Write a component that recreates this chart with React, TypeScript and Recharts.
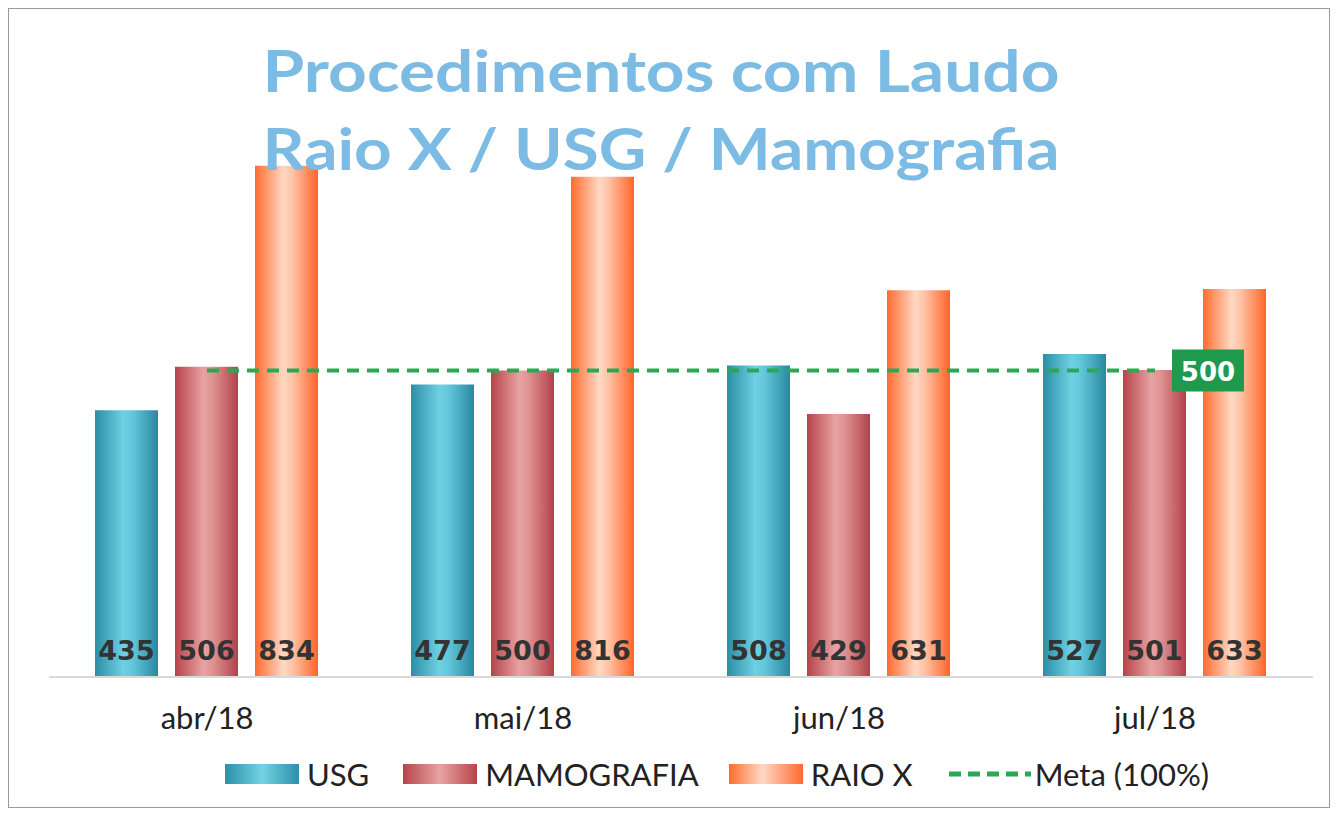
import { Bar, LabelList, Line, XAxis, YAxis, ComposedChart } from 'recharts'

const months = ['abr/18', 'mai/18', 'jun/18', 'jul/18']
const usg = [435, 477, 508, 527]
const mamografia = [506, 500, 429, 501]
const raioX = [834, 816, 631, 633]
const meta = [500, 500, 500, 500]

const data = months.map((m, i) => ({
  mes: m,
  usg: usg[i],
  mamografia: mamografia[i],
  raioX: raioX[i],
  meta: meta[i],
}))

const W = 1320
const H = 798

const BarValue = (props: any) => {
  const { x, y, width, height, value } = props
  return (
    <text
      x={x + width / 2}
      y={y + height - 17}
      textAnchor="middle"
      fontFamily="DejaVu Sans"
      fontWeight="bold"
      fontSize={27}
      fill="#333"
    >
      {value}
    </text>
  )
}

const MetaLabel = (props: any) => {
  const { x, y, value, index } = props
  if (index !== data.length - 1) return null
  return (
    <g>
      <rect x={x + 17} y={y - 21} width={72} height={42} fill="#1f9a4c" />
      <text
        x={x + 53}
        y={y + 10}
        textAnchor="middle"
        fontFamily="DejaVu Sans"
        fontWeight="bold"
        fontSize={26}
        fill="#fff"
      >
        {value}
      </text>
    </g>
  )
}

const MonthTick = (props: any) => {
  const { x, y, payload } = props
  return (
    <text x={x} y={y + 52} textAnchor="middle" fontFamily="Lato" fontSize={31} fill="#222">
      {payload.value}
    </text>
  )
}

const swatch = (bg: string) => ({
  display: 'inline-block',
  width: 74,
  height: 20,
  background: bg,
  marginRight: 8,
})

const Legenda = () => (
  <div
    style={{
      position: 'absolute',
      left: 0,
      top: 746,
      width: W,
      display: 'flex',
      justifyContent: 'center',
      alignItems: 'center',
      fontFamily: 'Lato',
      fontSize: 31,
      color: '#222',
      paddingLeft: 96,
      boxSizing: 'border-box',
    }}
  >
    <span style={swatch('linear-gradient(to right, #2b90a8, #74d2e4 50%, #2b90a8)')} />
    <span style={{ marginRight: 34 }}>USG</span>
    <span style={swatch('linear-gradient(to right, #b5444a, #e9a3a3 50%, #b5444a)')} />
    <span style={{ marginRight: 30 }}>MAMOGRAFIA</span>
    <span style={swatch('linear-gradient(to right, #ff6a2e, #ffd9c6 45%, #ff6a2e)')} />
    <span style={{ marginRight: 34 }}>RAIO X</span>
    <svg width={84} height={20} style={{ marginRight: 4 }}>
      <line x1={2} y1={10} x2={84} y2={10} stroke="#2aa853" strokeWidth={5} strokeDasharray="12 7" />
    </svg>
    <span>Meta (100%)</span>
  </div>
)

export default function App() {
  return (
    <div style={{ position: 'relative', width: W, height: H, border: '1px solid #9a9a9a', background: '#fff' }}>
      <ComposedChart
        width={W}
        height={H}
        data={data}
        barCategoryGap={46}
        barGap={17}
        margin={{ top: 55, right: 16, left: 40, bottom: 90 }}
      >
        <defs>
          <linearGradient id="gUsg" x1="0" y1="0" x2="1" y2="0">
            <stop offset="0%" stopColor="#2a8ea6" />
            <stop offset="45%" stopColor="#70d0e2" />
            <stop offset="60%" stopColor="#62c6da" />
            <stop offset="100%" stopColor="#2888a0" />
          </linearGradient>
          <linearGradient id="gMam" x1="0" y1="0" x2="1" y2="0">
            <stop offset="0%" stopColor="#b6434a" />
            <stop offset="45%" stopColor="#e8a2a2" />
            <stop offset="60%" stopColor="#df9292" />
            <stop offset="100%" stopColor="#b2414a" />
          </linearGradient>
          <linearGradient id="gRaio" x1="0" y1="0" x2="1" y2="0">
            <stop offset="0%" stopColor="#ff6b2f" />
            <stop offset="45%" stopColor="#ffd8c4" />
            <stop offset="60%" stopColor="#ffc2a4" />
            <stop offset="100%" stopColor="#ff6528" />
          </linearGradient>
        </defs>
        <XAxis
          dataKey="mes"
          height={40}
          axisLine={{ stroke: '#d9d9d9', strokeWidth: 2 }}
          tickLine={false}
          tickSize={0}
          tickMargin={0}
          tick={<MonthTick />}
        />
        <YAxis hide domain={[0, 1000]} />
        <Bar dataKey="usg" fill="url(#gUsg)" isAnimationActive={false}>
          <LabelList dataKey="usg" content={<BarValue />} />
        </Bar>
        <Bar dataKey="mamografia" fill="url(#gMam)" isAnimationActive={false}>
          <LabelList dataKey="mamografia" content={<BarValue />} />
        </Bar>
        <Bar dataKey="raioX" fill="url(#gRaio)" isAnimationActive={false}>
          <LabelList dataKey="raioX" content={<BarValue />} />
        </Bar>
        <Line
          dataKey="meta"
          stroke="#2aa853"
          strokeWidth={4}
          strokeDasharray="12 8"
          dot={false}
          activeDot={false}
          isAnimationActive={false}
        >
          <LabelList dataKey="meta" content={<MetaLabel />} />
        </Line>
      </ComposedChart>
      <svg width={W} height={200} style={{ position: 'absolute', left: 0, top: 0, pointerEvents: 'none' }}>
        <text
          x={W / 2 - 8}
          y={83}
          textAnchor="middle"
          fontFamily="Lato"
          fontWeight="bold"
          fontSize={58}
          fill="#7cbbe3"
          textLength={797}
          lengthAdjust="spacingAndGlyphs"
        >
          Procedimentos  com Laudo
        </text>
        <text
          x={W / 2 - 8}
          y={161}
          textAnchor="middle"
          fontFamily="Lato"
          fontWeight="bold"
          fontSize={58}
          fill="#7cbbe3"
          textLength={797}
          lengthAdjust="spacingAndGlyphs"
        >
          Raio X / USG / Mamografia
        </text>
      </svg>
      <Legenda />
    </div>
  )
}
